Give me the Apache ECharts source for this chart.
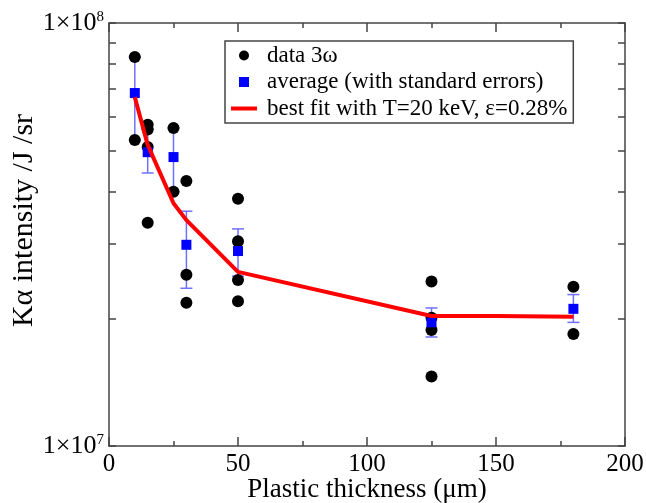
<!DOCTYPE html>
<html>
<head>
<meta charset="utf-8">
<script src="https://cdn.jsdelivr.net/npm/echarts@6/dist/echarts.min.js"></script>
<style>html,body{margin:0;padding:0;background:#fff}#c{width:646px;height:503px}</style>
</head>
<body>
<div id="c"></div>
<script>
// ---- data ----
const dataX = [10, 10, 15, 15, 15, 15, 25, 25, 30, 30, 30, 50, 50, 50, 50, 125, 125, 125, 125, 180, 180];
const dataY = [8.31e7, 5.29e7, 5.75e7, 5.6e7, 5.09e7, 3.37e7, 5.65e7, 3.99e7, 4.23e7, 2.54e7, 2.18e7,
               3.84e7, 3.05e7, 2.47e7, 2.20e7, 2.45e7, 2.01e7, 1.88e7, 1.46e7, 2.38e7, 1.84e7];
const avgX = [10, 15, 25, 30, 50, 125, 180];
const avgY = [6.83e7, 4.95e7, 4.82e7, 2.99e7, 2.89e7, 1.96e7, 2.11e7];
const errLow = [5.29e7, 4.42e7, 3.99e7, 2.36e7, 2.52e7, 1.81e7, 1.96e7];
const errHigh = [8.31e7, 5.62e7, 5.65e7, 3.59e7, 3.26e7, 2.12e7, 2.28e7];
const fitX = [10, 15, 25, 30, 50, 125, 150, 180];
const fitY = [6.68e7, 5.15e7, 3.75e7, 3.42e7, 2.58e7, 2.03e7, 2.03e7, 2.02e7];
const yTickValues = [1e7, 2e7, 3e7, 4e7, 5e7, 6e7, 7e7, 8e7, 9e7, 1e8];
const yLabelValues = [1e7, 1e8];
const seriesNames = ['data 3\u03c9', 'average (with standard errors)', 'best fit with T=20 keV, \u03b5=0.28%'];

const FONT = "'Liberation Serif', 'Times New Roman', serif";
const AXC = '#444';

const chart = echarts.init(document.getElementById('c'), null, {renderer: 'canvas'});

const xCommon = {
  type: 'value', min: 0, max: 200, interval: 50,
  axisLine: {show: true, onZero: false, lineStyle: {color: AXC, width: 1.5}},
  axisTick: {show: true, inside: true, length: 9, lineStyle: {color: AXC, width: 1.5}},
  minorTick: {show: true, splitNumber: 2, length: 5, lineStyle: {color: AXC, width: 1.5}},
  splitLine: {show: false}
};
const yCommon = {
  type: 'log', logBase: 10, min: 1e7, max: 1e8,
  axisLine: {show: true, onZero: false, lineStyle: {color: AXC, width: 1.5}},
  axisTick: {show: true, inside: true, length: 7, customValues: yTickValues, lineStyle: {color: AXC, width: 1.5}},
  splitLine: {show: false}
};

chart.setOption({
  animation: false,
  backgroundColor: '#fff',
  grid: {left: 109, right: 21, top: 23, bottom: 57, outerBoundsMode: 'none'},
  legend: {
    orient: 'vertical', left: 225, top: 41,
    padding: [3, 6, 3, 6],
    borderColor: AXC, borderWidth: 1.5,
    itemWidth: 26, itemHeight: 10, itemGap: 3.5,
    textStyle: {fontFamily: FONT, fontSize: 23, color: '#000', lineHeight: 20, padding: [0, 0, 0, 5]},
    data: [
      {name: seriesNames[0], icon: 'circle'},
      {name: seriesNames[1], icon: 'path://M0,0h10v10h-10z'},
      {name: seriesNames[2], icon: 'path://M0,0h26v4h-26z'}
    ]
  },
  xAxis: [
    Object.assign({}, xCommon, {
      position: 'bottom',
      name: 'Plastic thickness (\u03bcm)', nameLocation: 'middle', nameGap: 30, nameMoveOverlap: false,
      nameTextStyle: {fontFamily: FONT, fontSize: 27, color: '#000'},
      axisLabel: {show: true, margin: 6, fontFamily: FONT, fontSize: 25, color: '#000'}
    }),
    Object.assign({}, xCommon, {position: 'top', axisLabel: {show: false}})
  ],
  yAxis: [
    Object.assign({}, yCommon, {
      position: 'left',
      name: 'K\u03b1 intensity /J /sr', nameLocation: 'middle', nameGap: 70, nameRotate: 90, nameMoveOverlap: false,
      nameTextStyle: {fontFamily: FONT, fontSize: 30, color: '#000', padding: [0, 0, 0, 28]},
      axisLabel: {
        show: true, margin: 5, customValues: yLabelValues,
        formatter: function (v) {
          const e = Math.round(Math.log10(v));
          return '{m|1\u00d710}{s|' + e + '}';
        },
        rich: {
          m: {fontFamily: FONT, fontSize: 26, color: '#000'},
          s: {fontFamily: FONT, fontSize: 15, color: '#000', verticalAlign: 'top'}
        }
      }
    }),
    Object.assign({}, yCommon, {position: 'right', axisLabel: {show: false}})
  ],
  series: [
    {
      name: seriesNames[0], type: 'scatter', symbol: 'circle', symbolSize: 12,
      itemStyle: {color: '#000', opacity: 1},
      data: dataX.map((x, i) => [x, dataY[i]])
    },
    {
      name: 'err', type: 'custom',
      data: avgX.map((x, i) => [x, errLow[i], errHigh[i]]),
      renderItem: function (params, api) {
        const x = api.value(0);
        const lo = api.coord([x, api.value(1)]);
        const hi = api.coord([x, api.value(2)]);
        const w = 6;
        const st = {stroke: '#7070ff', lineWidth: 1.5};
        return {
          type: 'group',
          children: [
            {type: 'line', shape: {x1: lo[0], y1: lo[1], x2: hi[0], y2: hi[1]}, style: st},
            {type: 'line', shape: {x1: lo[0] - w, y1: lo[1], x2: lo[0] + w, y2: lo[1]}, style: st},
            {type: 'line', shape: {x1: hi[0] - w, y1: hi[1], x2: hi[0] + w, y2: hi[1]}, style: st}
          ]
        };
      }
    },
    {
      name: seriesNames[1], type: 'scatter', symbol: 'rect', symbolSize: 10,
      itemStyle: {color: '#0000ff', opacity: 1},
      data: avgX.map((x, i) => [x, avgY[i]])
    },
    {
      name: seriesNames[2], type: 'line', symbol: 'none',
      lineStyle: {color: '#ff0000', width: 4},
      itemStyle: {color: '#ff0000'},
      data: fitX.map((x, i) => [x, fitY[i]])
    }
  ]
});
</script>
</body>
</html>
